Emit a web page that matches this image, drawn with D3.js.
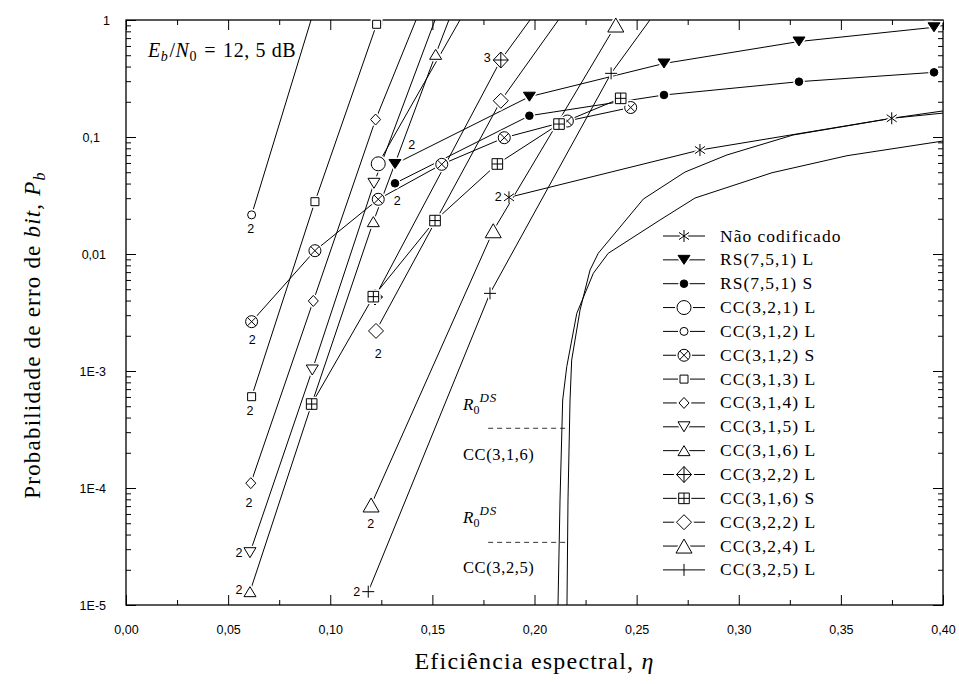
<!DOCTYPE html>
<html><head><meta charset="utf-8">
<script src="https://cdn.jsdelivr.net/npm/d3@7/dist/d3.min.js"></script>
<style>body{margin:0;background:#fff}svg{display:block}</style>
</head><body>
<svg id="chart" width="959" height="684"></svg>
<script>
// ---------------- DATA ----------------
const xTicks = [0, 0.05, 0.10, 0.15, 0.20, 0.25, 0.30, 0.35, 0.40];
const xTickLabels = ["0,00","0,05","0,10","0,15","0,20","0,25","0,30","0,35","0,40"];
const yTicks = [1, 0.1, 0.01, 1e-3, 1e-4, 1e-5];
const yTickLabels = ["1","0,1","0,01","1E-3","1E-4","1E-5"];

const naoCodX = [0.1875, 0.2810, 0.3749, 0.40];
const naoCodY = [0.0305, 0.0774, 0.1445, 0.160];
const rsX     = [0.1317, 0.1975, 0.2634, 0.3295, 0.3956];
const rsLY    = [0.0588, 0.221, 0.425, 0.655, 0.866];
const rsSY    = [0.0402, 0.152, 0.2286, 0.297, 0.357];
const cc321LX = [0.1235, 0.1635];
const cc321LY = [0.0590, 1];
const cc312LX = [0.0615, 0.0906];
const cc312LY = [0.0216, 1];
const cc312SX = [0.0615, 0.0925, 0.1235, 0.1546, 0.1852, 0.2161, 0.2471];
const cc312SY = [0.00264, 0.01067, 0.02935, 0.0584, 0.0986, 0.137, 0.1787];
const cc313LX = [0.0615, 0.0925, 0.1227];
const cc313LY = [6.03e-4, 0.0280, 0.919];
const cc314LX = [0.0611, 0.0917, 0.1222, 0.1420];
const cc314LY = [1.10e-4, 3.97e-3, 0.141, 1];
const cc315LX = [0.0607, 0.0912, 0.1214, 0.1513];
const cc315LY = [2.80e-5, 1.02e-3, 0.0402, 1];
const cc316LX = [0.0607, 0.0909, 0.1211, 0.1516, 0.1581];
const cc316LY = [1.30e-5, 5.22e-4, 0.0189, 0.509, 1];
const cc322aX = [0.1219, 0.1835, 0.1978];
const cc322aY = [4.29e-3, 0.455, 1];
const cc316SX = [0.0909, 0.1211, 0.1513, 0.1818, 0.2120, 0.2422];
const cc316SY = [5.22e-4, 4.32e-3, 0.0193, 0.0588, 0.129, 0.214];
const cc322bX = [0.1224, 0.1835, 0.2117];
const cc322bY = [2.20e-3, 0.204, 1];
const cc324LX = [0.1200, 0.1798, 0.2398];
const cc324LY = [7.16e-5, 0.0158, 0.906];
const cc325LX = [0.1186, 0.1782, 0.2375, 0.2565];
const cc325LY = [1.30e-5, 4.61e-3, 0.350, 1];

// R0 limit curves
const boundAX = [0.2159, 0.2164, 0.2174, 0.2182, 0.2223, 0.2272, 0.2312, 0.2533, 0.2737, 0.2942, 0.3266, 0.3755, 0.40];
const boundAY = [1e-5, 7.9e-5, 5.65e-4, 1.24e-3, 3.32e-3, 7.3e-3, 0.01014, 0.0295, 0.0502, 0.0702, 0.104, 0.145, 0.167];
const boundBX = [0.2115, 0.2125, 0.2138, 0.2158, 0.2207, 0.2288, 0.2361, 0.2614, 0.2786, 0.3163, 0.353, 0.40];
const boundBY = [1e-5, 7.9e-5, 5.65e-4, 1.09e-3, 3.11e-3, 6.84e-3, 0.01014, 0.0195, 0.0301, 0.0495, 0.0692, 0.0924];
const r0LevelsY = [3.24e-4, 3.43e-5];
const r0LevelsX = [0.1773, 0.2160];

// "2"/"3" point annotations (data coordinates)
const ptLabelText = ["2","2","2","2","2","2","2","2","2","2","2","2","3"];
const ptLabelX = [0.0611, 0.0618, 0.0607, 0.0602, 0.0553, 0.0553, 0.1198, 0.1130, 0.1235, 0.1328, 0.1399, 0.1823, 0.1769];
const ptLabelY = [0.01659, 1.84e-3, 4.58e-4, 7.55e-5, 2.80e-5, 1.36e-5, 4.99e-5, 1.30e-5, 1.42e-3, 0.0284, 0.0855, 0.0309, 0.476];

const seriesNames = ["Não codificado","RS(7,5,1) L","RS(7,5,1) S","CC(3,2,1) L","CC(3,1,2) L","CC(3,1,2) S",
  "CC(3,1,3) L","CC(3,1,4) L","CC(3,1,5) L","CC(3,1,6) L","CC(3,2,2) L","CC(3,1,6) S","CC(3,2,2) L","CC(3,2,4) L","CC(3,2,5) L"];

// ---------------- SETUP ----------------
const svg = d3.select("#chart");
const x = d3.scaleLinear().domain([0, 0.4]).range([126, 943]);
const y = d3.scaleLog().domain([1e-5, 1]).range([605, 20]);

const series = [
  {sym:"star",       xs:naoCodX, ys:naoCodY, mk:[0,1,2]},
  {sym:"triDownF",   xs:rsX,     ys:rsLY,    mk:[0,1,2,3,4]},
  {sym:"dotF",       xs:rsX,     ys:rsSY,    mk:[0,1,2,3,4]},
  {sym:"circleL",    xs:cc321LX, ys:cc321LY, mk:[0]},
  {sym:"circleS",    xs:cc312LX, ys:cc312LY, mk:[0]},
  {sym:"circleX",    xs:cc312SX, ys:cc312SY, mk:[0,1,2,3,4,5,6]},
  {sym:"square",     xs:cc313LX, ys:cc313LY, mk:[0,1,2]},
  {sym:"diamondS",   xs:cc314LX, ys:cc314LY, mk:[0,1,2]},
  {sym:"triDown",    xs:cc315LX, ys:cc315LY, mk:[0,1,2]},
  {sym:"triUp",      xs:cc316LX, ys:cc316LY, mk:[0,1,2,3]},
  {sym:"diamondPlus",xs:cc322aX, ys:cc322aY, mk:[0,1]},
  {sym:"squarePlus", xs:cc316SX, ys:cc316SY, mk:[0,1,2,3,4,5]},
  {sym:"diamondL",   xs:cc322bX, ys:cc322bY, mk:[0,1]},
  {sym:"triUpL",     xs:cc324LX, ys:cc324LY, mk:[0,1,2]},
  {sym:"plus",       xs:cc325LX, ys:cc325LY, mk:[0,1,2]}
];

function circ(r){return `M${-r},0A${r},${r} 0 1,0 ${r},0A${r},${r} 0 1,0 ${-r},0Z`;}
function symbol(t){
  switch(t){
    case "star": return {d:"M0,-6V6M-5,-3.6L5,3.6M-5,3.6L5,-3.6", fill:"none"};
    case "triDownF": return {d:"M0,4.5L6,-4.5L-6,-4.5Z", fill:"#000"};
    case "dotF": return {d:circ(3.8), fill:"#000"};
    case "circleL": return {d:circ(7), fill:"#fff"};
    case "circleS": return {d:circ(4), fill:"#fff"};
    case "circleX": {const a=6*0.7071; return {d:circ(6)+`M${-a},${-a}L${a},${a}M${-a},${a}L${a},${-a}`, fill:"#fff"};}
    case "square": return {d:"M-4,-4H4V4H-4Z", fill:"#fff"};
    case "diamondS": return {d:"M0,-5.5L5,0L0,5.5L-5,0Z", fill:"#fff"};
    case "triDown": return {d:"M0,5L6,-5L-6,-5Z", fill:"#fff"};
    case "triUp": return {d:"M0,-5L6,5L-6,5Z", fill:"#fff"};
    case "diamondPlus": return {d:"M0,-8L7.5,0L0,8L-7.5,0ZM0,-8V8M-7.5,0H7.5", fill:"#fff"};
    case "squarePlus": return {d:"M-5.3,-5.3H5.3V5.3H-5.3ZM0,-5.3V5.3M-5.3,0H5.3", fill:"#fff"};
    case "diamondL": return {d:"M0,-7.5L7.5,0L0,7.5L-7.5,0Z", fill:"#fff"};
    case "triUpL": return {d:"M0,-7L8,7L-8,7Z", fill:"#fff"};
    case "plus": return {d:"M0,-6V6M-6,0H6", fill:"none"};
  }
}
function drawMarker(g, t, cx, cy){
  const s = symbol(t);
  g.append("path").attr("d", s.d).attr("transform",`translate(${cx},${cy})`)
    .attr("fill", s.fill==="none" ? "none" : "#fff").attr("stroke","#fff").attr("stroke-width",4);
  g.append("path").attr("d", s.d).attr("transform",`translate(${cx},${cy})`)
    .attr("fill", s.fill).attr("stroke","#000").attr("stroke-width",1);
}

// clip
svg.append("defs").append("clipPath").attr("id","plotclip").append("rect")
  .attr("x",126).attr("y",20).attr("width",817).attr("height",585);

// ---------------- AXES ----------------
const axisFont = "'Liberation Sans', Arial, sans-serif";
const xMinor = d3.range(0.025, 0.4, 0.05);
const yMinor = [];
[1e-5,1e-4,1e-3,1e-2,1e-1].forEach(d=>{for(let k=2;k<10;k++) yMinor.push(k*d);});

function styleAxis(g){ g.select(".domain").remove(); g.selectAll("line").attr("stroke","#000").attr("stroke-width",1);
  g.selectAll("text").attr("font-family",axisFont).attr("font-size","12.5px").attr("fill","#000"); }

svg.append("g").attr("transform","translate(0,605)")
  .call(d3.axisBottom(x).tickValues(xTicks).tickFormat((d,i)=>xTickLabels[i]).tickSize(-10).tickPadding(20)).call(styleAxis);
svg.append("g").attr("transform","translate(0,605)")
  .call(d3.axisBottom(x).tickValues(xMinor).tickFormat("").tickSize(-5)).call(styleAxis);
svg.append("g").attr("transform","translate(0,20)")
  .call(d3.axisTop(x).tickValues(xTicks).tickFormat("").tickSize(-10)).call(styleAxis);
svg.append("g").attr("transform","translate(0,20)")
  .call(d3.axisTop(x).tickValues(xMinor).tickFormat("").tickSize(-5)).call(styleAxis);
const leftAxis = svg.append("g").attr("transform","translate(126,0)")
  .call(d3.axisLeft(y).tickValues(yTicks).tickFormat((d,i)=>yTickLabels[i]).tickSize(-10).tickPadding(20)).call(styleAxis);
// small per-label nudges seen in the reference ("1" sits a bit right, "0,1" a bit left)
leftAxis.selectAll(".tick text").attr("dx",(d)=> d===1 ? 4 : (d===0.1 ? -6 : 0));
svg.append("g").attr("transform","translate(126,0)")
  .call(d3.axisLeft(y).tickValues(yMinor).tickFormat("").tickSize(-5)).call(styleAxis);
svg.append("g").attr("transform","translate(943,0)")
  .call(d3.axisRight(y).tickValues(yTicks).tickFormat("").tickSize(-10)).call(styleAxis);
svg.append("g").attr("transform","translate(943,0)")
  .call(d3.axisRight(y).tickValues(yMinor).tickFormat("").tickSize(-5)).call(styleAxis);

svg.append("rect").attr("x",126).attr("y",20).attr("width",817).attr("height",585)
  .attr("fill","none").attr("stroke","#000").attr("stroke-width",1.3);

// ---------------- LINES ----------------
const line = d3.line().x(d=>x(d[0])).y(d=>y(d[1]));
const plot = svg.append("g").attr("clip-path","url(#plotclip)");
series.forEach(s=>{
  plot.append("path").attr("d", line(s.xs.map((v,i)=>[v, s.ys[i]])))
    .attr("fill","none").attr("stroke","#000").attr("stroke-width",1);
});
[[boundAX,boundAY],[boundBX,boundBY]].forEach(([xs,ys])=>{
  plot.append("path").attr("d", line(xs.map((v,i)=>[v, ys[i]])))
    .attr("fill","none").attr("stroke","#000").attr("stroke-width",1);
});
r0LevelsY.forEach(v=>{
  plot.append("line").attr("x1",x(r0LevelsX[0])).attr("x2",x(r0LevelsX[1]))
    .attr("y1",y(v)).attr("y2",y(v)).attr("stroke","#000").attr("stroke-width",0.8).attr("stroke-dasharray","5,4");
});

// ---------------- MARKERS ----------------
const mg = svg.append("g");
series.forEach(s=>{ s.mk.forEach(i=> drawMarker(mg, s.sym, x(s.xs[i]), y(s.ys[i]))); });

// point labels
ptLabelText.forEach((t,i)=>{
  svg.append("text").attr("x",x(ptLabelX[i])).attr("y",y(ptLabelY[i])).attr("dy","0.35em")
    .attr("text-anchor","middle").attr("font-family",axisFont).attr("font-size","12.5px").text(t);
});

// ---------------- TEXT ----------------
const serif = "'Liberation Serif', 'Times New Roman', serif";
function mathText(xp, yp, size){
  return svg.append("text").attr("x",xp).attr("y",yp).attr("font-family",serif).attr("font-size",size+"px").attr("fill","#000");
}
// Eb/N0
{
  const t = mathText(148, 57, 20).attr("letter-spacing","0.6px");
  t.append("tspan").attr("font-style","italic").text("E");
  t.append("tspan").attr("font-style","italic").attr("font-size","14px").attr("dy",4).text("b");
  t.append("tspan").attr("dy",-4).attr("dx",1).text("/");
  t.append("tspan").attr("font-style","italic").text("N");
  t.append("tspan").attr("font-size","14px").attr("dy",4).text("0");
  t.append("tspan").attr("dy",-4).attr("dx",7).text("=");
  t.append("tspan").attr("dx",7).text("12, 5 dB");
}
// R0DS annotations
const annotX = 0.165;
const r0TextY = [4.64e-4, 5.02e-5];
const ccTextY = [1.73e-4, 1.88e-5];
const ccText = ["CC(3,1,6)", "CC(3,2,5)"];
r0TextY.forEach(v=>{
  const t = mathText(x(annotX), y(v), 17);
  t.append("tspan").attr("font-style","italic").text("R");
  t.append("tspan").attr("font-size","12px").attr("dy",4).text("0");
  t.append("tspan").attr("font-size","13px").attr("font-style","italic").attr("letter-spacing","1px").attr("dy",-12).text("DS");
});
ccText.forEach((s,i)=>{
  mathText(x(annotX), y(ccTextY[i]), 16.5).attr("letter-spacing","0.6px").text(s);
});

// axis titles
{
  const t = mathText(534.5, 669, 24).attr("text-anchor","middle").attr("letter-spacing","1.2px");
  t.append("tspan").text("Eficiência espectral, ");
  t.append("tspan").attr("font-style","italic").text("η");
}
{
  const t = svg.append("text").attr("transform","translate(40,335) rotate(-90)").attr("text-anchor","middle")
    .attr("font-family",serif).attr("font-size","23px").attr("letter-spacing","1.2px");
  t.append("tspan").text("Probabilidade de erro de ");
  t.append("tspan").attr("font-style","italic").text("bit");
  t.append("tspan").text(", ");
  t.append("tspan").attr("font-style","italic").text("P");
  t.append("tspan").attr("font-style","italic").attr("font-size","16px").attr("dy",5).text("b");
}

// ---------------- LEGEND ----------------
const lg = svg.append("g");
series.forEach((s,i)=>{
  const yy = 236 + i*23.85;
  lg.append("line").attr("x1",663).attr("x2",705).attr("y1",yy).attr("y2",yy).attr("stroke","#000").attr("stroke-width",1);
  drawMarker(lg, s.sym, 684, yy);
  lg.append("text").attr("x",720).attr("y",yy+5.5).attr("font-family",serif).attr("font-size","17.5px")
    .attr("letter-spacing","1px").text(seriesNames[i]);
});
</script>
</body></html>
